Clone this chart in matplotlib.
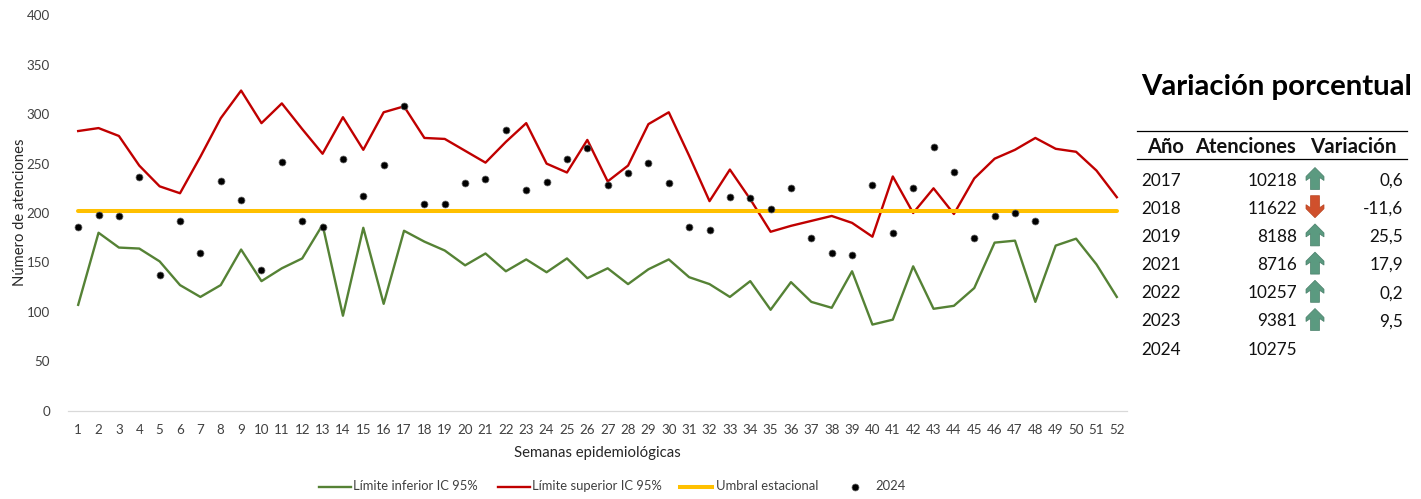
import matplotlib
matplotlib.use("Agg")
import matplotlib.pyplot as plt
from matplotlib.patches import Polygon
from matplotlib.lines import Line2D

plt.rcParams['font.family'] = ['Lato', 'DejaVu Sans']

weeks = list(range(1, 53))
upper = [283,286,278,248,227,220,257,296,324,291,311,285,260,297,264,302,308,276,275,263,251,272,291,250,241,274,
         232,248,290,302,258,212,244,214,181,187,192,197,190,176,237,200,225,199,235,255,264,276,265,262,243,216]
lower = [107,180,165,164,151,127,115,127,163,131,144,154,188,96,185,108,182,171,162,147,159,141,153,140,154,134,
         144,128,143,153,135,128,115,131,102,130,110,104,141,87,92,146,103,106,124,170,172,110,167,174,148,115]
threshold = [202.5] * 52
cases_2024 = [186,198,197,236,137,192,159,232,213,142,252,192,186,255,217,249,308,209,209,230,234,284,223,231,255,266,
              228,241,251,230,186,183,216,215,204,225,175,160,157,228,180,225,267,242,175,197,200,192]

years = ['2017', '2018', '2019', '2021', '2022', '2023', '2024']
attendances = ['10218', '11622', '8188', '8716', '10257', '9381', '10275']
variation = ['0,6', '-11,6', '25,5', '17,9', '0,2', '9,5', '']
direction = ['up', 'down', 'up', 'up', 'up', 'up', None]

W, H = 1421, 499
fig = plt.figure(figsize=(W / 100, H / 100), dpi=100, facecolor='white')
ax = fig.add_axes([68 / W, 1 - 410.5 / H, (1127 - 68) / W, 395 / H])

TXT = '#404040'
GREEN, RED, GOLD = '#558235', '#C00000', '#FFC000'
l1, = ax.plot(weeks, lower, color=GREEN, lw=1.7, label='Límite inferior IC 95%', zorder=2)
l2, = ax.plot(weeks, upper, color=RED, lw=1.7, label='Límite superior IC 95%', zorder=2)
l3, = ax.plot(weeks, threshold, color=GOLD, lw=2.9, solid_capstyle='round', label='Umbral estacional', zorder=3)
l4, = ax.plot(weeks[:len(cases_2024)], cases_2024, ls='none', marker='o', ms=5.0, color='black',
              mec='#666666', mew=0.5, label='2024', zorder=4)

ax.set_xlim(0.5, 52.5)
ax.set_ylim(0, 400)
ax.set_yticks(range(0, 401, 50))
ax.set_xticks(weeks)
ax.tick_params(axis='both', length=0, labelsize=9.6, labelcolor=TXT)
ax.tick_params(axis='x', pad=10)
ax.tick_params(axis='y', pad=13)
for s in ('top', 'right', 'left'):
    ax.spines[s].set_visible(False)
ax.spines['bottom'].set_color('#D9D9D9')
ax.spines['bottom'].set_linewidth(0.9)
ax.set_facecolor('none')

fig.text(20.5 / W, 1 - 212.5 / H, 'Número de atenciones', rotation=90, fontsize=10.6, color='#262626',
         ha='center', va='center')
fig.text(597.5 / W, 1 - 453 / H, 'Semanas epidemiológicas', fontsize=10.7, color='#262626', ha='center', va='center')

# Legend, placed entry by entry
legend_items = [(l1, 319, 353), (l2, 498, 532), (l3, 680, 716), (l4, 855, 875)]
ly = 1 - 486.5 / H
for line, x0, xt in legend_items:
    if line is l4:
        fig.add_artist(Line2D([x0 / W], [ly], ls='none', marker='o', ms=5.0, color='black',
                              mec='#666666', mew=0.5, transform=fig.transFigure))
    else:
        fig.add_artist(Line2D([x0 / W, (x0 + 32) / W], [ly, ly], color=line.get_color(), lw=line.get_linewidth(),
                              transform=fig.transFigure))
    fig.text(xt / W, ly, line.get_label(), fontsize=9.4, color=TXT, ha='left', va='center')

# Table panel
fig.text(1141 / W, 1 - 86.5 / H, 'Variación porcentual', fontsize=21.2, fontweight='bold', color='black',
         ha='left', va='center')
for yy in (131, 159):
    fig.add_artist(Line2D([1137 / W, 1407 / W], [1 - yy / H] * 2, color='black', lw=0.9, transform=fig.transFigure))
hy = 1 - 147 / H
fig.text(1165.5 / W, hy, 'Año', fontsize=14.5, fontweight='bold', ha='center', va='center', color='#111111')
fig.text(1245.5 / W, hy, 'Atenciones', fontsize=14.5, fontweight='bold', ha='center', va='center', color='#111111')
fig.text(1353 / W, hy, 'Variación', fontsize=14.8, fontweight='bold', ha='center', va='center', color='#111111')

row_top, row_h = 180.5, 28.2
arrow_colors = {'up': '#5B9A80', 'down': '#D0502C'}
for i, (yr, at, va_, d) in enumerate(zip(years, attendances, variation, direction)):
    py = row_top + i * row_h
    y = 1 - py / H
    fig.text(1141 / W, y, yr, fontsize=12.3, ha='left', va='center', color='#111111')
    fig.text(1297 / W, y, at, fontsize=12.3, ha='right', va='center', color='#111111')
    fig.text(1403 / W, y, va_, fontsize=12.3, ha='right', va='center', color='#111111')
    if d:
        cx = 1315
        cy = py - 2
        s = 1 if d == 'up' else -1
        pts = [(0, -11), (9, -2), (9, 2), (4.5, -1), (4.5, 11), (-4.5, 11), (-4.5, -1), (-9, 2), (-9, -2)]
        verts = [((cx + px) / W, 1 - (cy + s * qy) / H) for px, qy in pts]
        fig.add_artist(Polygon(verts, closed=True, transform=fig.transFigure, facecolor=arrow_colors[d],
                               edgecolor='#4A7F6A' if d == 'up' else '#B8431F', lw=0.5))

fig.savefig('out.png', dpi=100)
